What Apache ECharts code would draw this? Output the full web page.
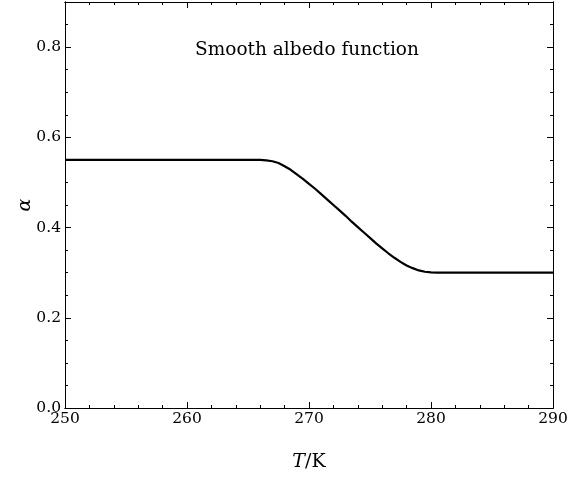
<!DOCTYPE html>
<html>
<head>
<meta charset="utf-8">
<script src="https://cdn.jsdelivr.net/npm/echarts@6/dist/echarts.min.js"></script>
<style>
  html, body { margin: 0; padding: 0; background: #ffffff; }
  #chart { width: 568px; height: 477px; }
</style>
</head>
<body>
<div id="chart"></div>
<script>
// Temperature (K) and albedo samples of the smooth albedo curve
const temperature = [250, 260, 265, 266, 266.5, 267, 267.5, 268, 268.5, 269, 269.5, 270, 270.5, 271, 271.5,
  272, 272.5, 273, 273.5, 274, 274.5, 275, 275.5, 276, 276.5, 277, 277.5, 278, 278.5, 279, 279.5,
  280, 280.5, 281, 285, 290];
const albedo = [0.55, 0.55, 0.55, 0.55, 0.549, 0.547, 0.543, 0.536, 0.528, 0.518, 0.508, 0.497, 0.486, 0.474, 0.462,
  0.450, 0.438, 0.426, 0.413, 0.401, 0.389, 0.377, 0.365, 0.354, 0.343, 0.333, 0.324, 0.316, 0.310, 0.305, 0.302,
  0.3005, 0.300, 0.300, 0.300, 0.300];

// Axis tick labels
const xTickLabels = ['250', '260', '270', '280', '290'];
const yTickLabels = ['0.0', '0.2', '0.4', '0.6', '0.8'];

const FONT = 'DejaVu Serif';
const X_MIN = 250, X_MAX = 290, Y_MIN = 0, Y_MAX = 0.9;

function xLabel(v) {
  const i = Math.round((v - X_MIN) / 10);
  return xTickLabels[i] !== undefined && Math.abs(v - (X_MIN + i * 10)) < 1e-6 ? xTickLabels[i] : '';
}
function yLabel(v) {
  const i = Math.round((v - Y_MIN) / 0.2);
  return yTickLabels[i] !== undefined && Math.abs(v - (Y_MIN + i * 0.2)) < 1e-6 ? yTickLabels[i] : '';
}

const line = { show: true, onZero: false, lineStyle: { color: '#000', width: 1 } };

function xAxis(position, interval, tickLen, labels) {
  return {
    type: 'value', position, min: X_MIN, max: X_MAX, interval,
    axisLine: line,
    axisTick: { show: true, inside: true, length: tickLen, lineStyle: { color: '#000', width: 1 } },
    axisLabel: labels ? { show: true, formatter: xLabel, margin: 3, color: '#000',
      fontFamily: FONT, fontSize: 15.5 } : { show: false },
    splitLine: { show: false }
  };
}
function yAxis(position, interval, tickLen, labels) {
  return {
    type: 'value', position, min: Y_MIN, max: Y_MAX, interval,
    axisLine: line,
    axisTick: { show: true, inside: true, length: tickLen, lineStyle: { color: '#000', width: 1 } },
    axisLabel: labels ? { show: true, formatter: yLabel, margin: 4, color: '#000',
      fontFamily: FONT, fontSize: 15.5 } : { show: false },
    splitLine: { show: false }
  };
}

const xAxes = [
  xAxis('bottom', 10, 6, true),
  xAxis('bottom', 2, 3, false),
  xAxis('top', 10, 6, false),
  xAxis('top', 2, 3, false)
];
xAxes[0].name = '{it|T}/K';
xAxes[0].nameLocation = 'middle';
xAxes[0].nameGap = 45;
xAxes[0].nameMoveOverlap = false;
xAxes[0].nameTextStyle = {
  color: '#000', fontFamily: FONT, fontSize: 19,
  rich: { it: { fontFamily: FONT, fontStyle: 'italic', fontSize: 19, color: '#000' } }
};

const yAxes = [
  yAxis('left', 0.2, 6, true),
  yAxis('left', 0.05, 3, false),
  yAxis('right', 0.2, 6, false),
  yAxis('right', 0.05, 3, false)
];
yAxes[0].name = 'α';
yAxes[0].nameLocation = 'middle';
yAxes[0].nameRotate = 90;
yAxes[0].nameGap = 30;
yAxes[0].nameMoveOverlap = false;
yAxes[0].nameTextStyle = { color: '#000', fontFamily: FONT, fontStyle: 'italic', fontSize: 19 };

const chart = echarts.init(document.getElementById('chart'), null, { renderer: 'canvas' });
chart.setOption({
  backgroundColor: '#ffffff',
  animation: false,
  title: {
    text: 'Smooth albedo function',
    left: 302, top: 36, textAlign: 'center',
    textStyle: { fontFamily: FONT, fontWeight: 'normal', fontSize: 18.5, color: '#000' }
  },
  grid: { left: 65, right: 15, top: 2, bottom: 69, containLabel: false, outerBoundsMode: 'none' },
  xAxis: xAxes,
  yAxis: yAxes,
  series: [{
    type: 'line',
    xAxisIndex: 0, yAxisIndex: 0,
    data: temperature.map((t, i) => [t, albedo[i]]),
    showSymbol: false,
    smooth: false,
    lineStyle: { color: '#000', width: 2.2 }
  }]
});
</script>
</body>
</html>
